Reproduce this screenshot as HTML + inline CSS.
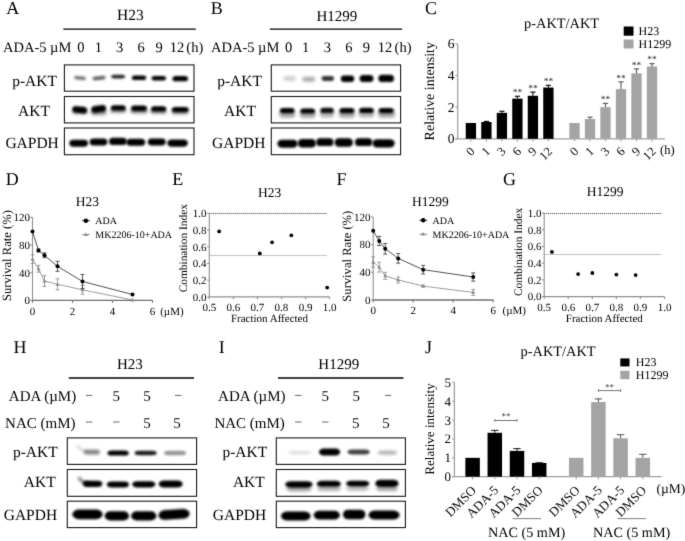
<!DOCTYPE html>
<html><head><meta charset="utf-8"><title>Figure</title>
<style>
html,body{margin:0;padding:0;background:#fff;width:685px;height:541px;overflow:hidden;}
svg{display:block;will-change:transform;}
text{font-family:"Liberation Serif", serif;text-rendering:geometricPrecision;}
</style></head>
<body>
<svg width="685" height="541" viewBox="0 0 685 541">
<defs>
<filter id="bl1" x="-50%" y="-100%" width="200%" height="300%"><feGaussianBlur stdDeviation="1.0"/></filter>
<filter id="bl2" x="-50%" y="-100%" width="200%" height="300%"><feGaussianBlur stdDeviation="1.4"/></filter>
<filter id="gcv" x="0" y="0" width="685" height="541" filterUnits="userSpaceOnUse" color-interpolation-filters="sRGB"><feConvolveMatrix order="3" kernelMatrix="0.01 0.08 0.01 0.08 0.64 0.08 0.01 0.08 0.01" edgeMode="duplicate"/></filter>
</defs>
<g filter="url(#gcv)">
<rect width="685" height="541" fill="#fff"/>
<text x="6.30" y="13.70" font-size="18" text-anchor="start" fill="#000" font-family="Liberation Serif" >A</text>
<text x="210.80" y="13.70" font-size="18" text-anchor="start" fill="#000" font-family="Liberation Serif" >B</text>
<text x="425.00" y="13.70" font-size="18" text-anchor="start" fill="#000" font-family="Liberation Serif" >C</text>
<text x="5.80" y="185.00" font-size="18" text-anchor="start" fill="#000" font-family="Liberation Serif" >D</text>
<text x="172.30" y="185.00" font-size="18" text-anchor="start" fill="#000" font-family="Liberation Serif" >E</text>
<text x="336.60" y="185.00" font-size="18" text-anchor="start" fill="#000" font-family="Liberation Serif" >F</text>
<text x="503.00" y="185.00" font-size="18" text-anchor="start" fill="#000" font-family="Liberation Serif" >G</text>
<text x="13.60" y="352.70" font-size="18" text-anchor="start" fill="#000" font-family="Liberation Serif" >H</text>
<text x="218.80" y="352.70" font-size="18" text-anchor="start" fill="#000" font-family="Liberation Serif" >I</text>
<text x="425.00" y="352.70" font-size="18" text-anchor="start" fill="#000" font-family="Liberation Serif" >J</text>
<clipPath id="c1"><rect x="64.40" y="64.90" width="129.60" height="26.30"/></clipPath>
<g clip-path="url(#c1)">
<rect x="73.80" y="76.31" width="12.40" height="3.38" rx="2.73" ry="1.69" fill="#000" fill-opacity="0.55" filter="url(#bl1)" transform="rotate(5.53 80.00 78.00)"/>
<rect x="92.30" y="76.28" width="13.40" height="3.64" rx="2.95" ry="1.82" fill="#000" fill-opacity="0.62" filter="url(#bl1)" transform="rotate(-6.39 99.00 78.10)"/>
<rect x="111.10" y="74.78" width="14.10" height="3.64" rx="3.10" ry="1.82" fill="#000" fill-opacity="0.85" filter="url(#bl1)"/>
<rect x="131.80" y="75.52" width="14.40" height="4.55" rx="3.17" ry="2.27" fill="#000" fill-opacity="1.0" filter="url(#bl1)"/>
<rect x="151.60" y="76.09" width="14.40" height="4.42" rx="3.17" ry="2.21" fill="#000" fill-opacity="1.0" filter="url(#bl1)"/>
<rect x="172.40" y="76.10" width="15.60" height="5.20" rx="3.43" ry="2.60" fill="#000" fill-opacity="1.0" filter="url(#bl1)"/>
</g>
<rect x="64.40" y="64.90" width="129.60" height="26.30" fill="none" stroke="#1a1a1a" stroke-width="1.1"/>
<clipPath id="c2"><rect x="64.40" y="96.50" width="129.60" height="26.40"/></clipPath>
<g clip-path="url(#c2)">
<rect x="72.30" y="108.51" width="15.40" height="5.98" rx="3.39" ry="2.99" fill="#000" fill-opacity="0.35" filter="url(#bl2)"/>
<rect x="90.80" y="109.51" width="15.90" height="5.98" rx="3.50" ry="2.99" fill="#000" fill-opacity="0.35" filter="url(#bl2)"/>
<rect x="110.30" y="107.88" width="15.90" height="5.23" rx="3.50" ry="2.62" fill="#000" fill-opacity="0.4" filter="url(#bl2)"/>
<rect x="130.30" y="108.38" width="17.40" height="5.23" rx="3.83" ry="2.62" fill="#000" fill-opacity="0.45" filter="url(#bl2)"/>
<rect x="150.30" y="108.88" width="16.40" height="5.23" rx="3.61" ry="2.62" fill="#000" fill-opacity="0.4" filter="url(#bl2)"/>
<rect x="171.30" y="109.38" width="17.40" height="5.23" rx="3.83" ry="2.62" fill="#000" fill-opacity="0.4" filter="url(#bl2)"/>
<rect x="72.30" y="106.51" width="14.70" height="6.58" rx="3.29" ry="3.29" fill="#000" fill-opacity="1.0" filter="url(#bl1)" transform="rotate(5.83 79.65 109.80)"/>
<rect x="91.30" y="105.56" width="14.80" height="6.88" rx="3.44" ry="3.44" fill="#000" fill-opacity="1.0" filter="url(#bl1)" transform="rotate(-7.70 98.70 109.00)"/>
<rect x="110.90" y="105.21" width="14.80" height="5.38" rx="3.26" ry="2.69" fill="#000" fill-opacity="1.0" filter="url(#bl1)"/>
<rect x="131.10" y="105.61" width="15.80" height="5.38" rx="3.48" ry="2.69" fill="#000" fill-opacity="1.0" filter="url(#bl1)"/>
<rect x="151.10" y="106.21" width="15.10" height="5.38" rx="3.32" ry="2.69" fill="#000" fill-opacity="1.0" filter="url(#bl1)"/>
<rect x="171.80" y="106.91" width="16.90" height="5.38" rx="3.72" ry="2.69" fill="#000" fill-opacity="1.0" filter="url(#bl1)"/>
</g>
<rect x="64.40" y="96.50" width="129.60" height="26.40" fill="none" stroke="#1a1a1a" stroke-width="1.1"/>
<clipPath id="c3"><rect x="64.40" y="128.00" width="129.60" height="26.70"/></clipPath>
<g clip-path="url(#c3)">
<rect x="69.30" y="139.87" width="18.70" height="6.86" rx="4.11" ry="3.43" fill="#000" fill-opacity="1.0" filter="url(#bl1)"/>
<rect x="89.60" y="138.57" width="17.80" height="6.86" rx="3.92" ry="3.43" fill="#000" fill-opacity="1.0" filter="url(#bl1)"/>
<rect x="109.00" y="137.85" width="17.80" height="7.09" rx="3.92" ry="3.55" fill="#000" fill-opacity="1.0" filter="url(#bl1)"/>
<rect x="126.40" y="138.65" width="18.80" height="7.09" rx="4.14" ry="3.55" fill="#000" fill-opacity="1.0" filter="url(#bl1)"/>
<rect x="147.80" y="138.57" width="17.90" height="6.86" rx="3.94" ry="3.43" fill="#000" fill-opacity="1.0" filter="url(#bl1)"/>
<rect x="167.30" y="139.44" width="20.50" height="7.32" rx="4.51" ry="3.66" fill="#000" fill-opacity="1.0" filter="url(#bl1)"/>
</g>
<rect x="64.40" y="128.00" width="129.60" height="26.70" fill="none" stroke="#1a1a1a" stroke-width="1.1"/>
<clipPath id="c4"><rect x="271.30" y="64.90" width="129.30" height="26.30"/></clipPath>
<g clip-path="url(#c4)">
<rect x="283.30" y="76.03" width="12.40" height="4.94" rx="2.73" ry="2.47" fill="#000" fill-opacity="0.18" filter="url(#bl2)"/>
<rect x="302.30" y="76.83" width="12.90" height="4.94" rx="2.84" ry="2.47" fill="#000" fill-opacity="0.32" filter="url(#bl2)"/>
<rect x="321.60" y="76.03" width="12.40" height="4.94" rx="2.73" ry="2.47" fill="#000" fill-opacity="0.8" filter="url(#bl1)"/>
<rect x="340.80" y="75.45" width="13.40" height="6.50" rx="3.25" ry="3.25" fill="#000" fill-opacity="1.0" filter="url(#bl1)"/>
<rect x="359.60" y="74.89" width="13.90" height="7.02" rx="3.51" ry="3.51" fill="#000" fill-opacity="1.0" filter="url(#bl1)"/>
<rect x="378.40" y="74.76" width="15.60" height="7.28" rx="3.64" ry="3.64" fill="#000" fill-opacity="1.0" filter="url(#bl1)"/>
</g>
<rect x="271.30" y="64.90" width="129.30" height="26.30" fill="none" stroke="#1a1a1a" stroke-width="1.1"/>
<clipPath id="c5"><rect x="271.30" y="96.50" width="129.30" height="26.40"/></clipPath>
<g clip-path="url(#c5)">
<rect x="279.30" y="110.26" width="15.90" height="7.47" rx="3.74" ry="3.74" fill="#000" fill-opacity="0.35" filter="url(#bl2)"/>
<rect x="299.80" y="110.56" width="15.90" height="7.47" rx="3.74" ry="3.74" fill="#000" fill-opacity="0.35" filter="url(#bl2)"/>
<rect x="319.80" y="109.96" width="14.40" height="7.47" rx="3.74" ry="3.74" fill="#000" fill-opacity="0.3" filter="url(#bl2)"/>
<rect x="338.80" y="110.26" width="16.30" height="7.47" rx="3.74" ry="3.74" fill="#000" fill-opacity="0.35" filter="url(#bl2)"/>
<rect x="358.60" y="110.06" width="15.80" height="7.47" rx="3.74" ry="3.74" fill="#000" fill-opacity="0.3" filter="url(#bl2)"/>
<rect x="378.00" y="110.26" width="17.30" height="7.47" rx="3.81" ry="3.74" fill="#000" fill-opacity="0.35" filter="url(#bl2)"/>
<rect x="279.90" y="107.91" width="14.60" height="5.38" rx="3.21" ry="2.69" fill="#000" fill-opacity="1.0" filter="url(#bl1)"/>
<rect x="300.30" y="108.46" width="14.70" height="5.08" rx="3.23" ry="2.54" fill="#000" fill-opacity="1.0" filter="url(#bl1)"/>
<rect x="320.40" y="107.86" width="13.30" height="5.08" rx="2.93" ry="2.54" fill="#000" fill-opacity="0.95" filter="url(#bl1)"/>
<rect x="339.50" y="108.06" width="14.90" height="5.08" rx="3.28" ry="2.54" fill="#000" fill-opacity="1.0" filter="url(#bl1)"/>
<rect x="359.30" y="107.71" width="14.40" height="5.38" rx="3.17" ry="2.69" fill="#000" fill-opacity="1.0" filter="url(#bl1)"/>
<rect x="378.70" y="108.06" width="15.00" height="5.08" rx="3.30" ry="2.54" fill="#000" fill-opacity="1.0" filter="url(#bl1)"/>
</g>
<rect x="271.30" y="96.50" width="129.30" height="26.40" fill="none" stroke="#1a1a1a" stroke-width="1.1"/>
<clipPath id="c6"><rect x="271.30" y="128.00" width="129.30" height="26.70"/></clipPath>
<g clip-path="url(#c6)">
<rect x="277.40" y="139.67" width="20.20" height="8.06" rx="4.44" ry="4.03" fill="#000" fill-opacity="1.0" filter="url(#bl1)"/>
<rect x="297.80" y="138.91" width="18.20" height="8.58" rx="4.29" ry="4.29" fill="#000" fill-opacity="1.0" filter="url(#bl1)"/>
<rect x="316.20" y="138.30" width="17.30" height="7.80" rx="3.90" ry="3.90" fill="#000" fill-opacity="1.0" filter="url(#bl1)"/>
<rect x="334.60" y="138.34" width="18.30" height="8.32" rx="4.16" ry="4.16" fill="#000" fill-opacity="1.0" filter="url(#bl1)"/>
<rect x="355.00" y="138.30" width="17.30" height="7.80" rx="3.90" ry="3.90" fill="#000" fill-opacity="1.0" filter="url(#bl1)"/>
<rect x="372.50" y="139.14" width="22.20" height="8.32" rx="4.88" ry="4.16" fill="#000" fill-opacity="1.0" filter="url(#bl1)"/>
</g>
<rect x="271.30" y="128.00" width="129.30" height="26.70" fill="none" stroke="#1a1a1a" stroke-width="1.1"/>
<clipPath id="c7"><rect x="67.30" y="437.90" width="129.30" height="26.50"/></clipPath>
<g clip-path="url(#c7)">
<rect x="83.80" y="449.76" width="16.20" height="4.68" rx="3.56" ry="2.34" fill="#000" fill-opacity="0.5" filter="url(#bl2)"/>
<rect x="107.40" y="450.40" width="21.40" height="5.20" rx="4.71" ry="2.60" fill="#000" fill-opacity="1.0" filter="url(#bl1)"/>
<rect x="134.60" y="450.79" width="22.10" height="4.42" rx="4.86" ry="2.21" fill="#000" fill-opacity="0.9" filter="url(#bl1)"/>
<rect x="164.00" y="450.79" width="22.10" height="4.42" rx="4.86" ry="2.21" fill="#000" fill-opacity="0.42" filter="url(#bl1)"/>
</g>
<rect x="67.30" y="437.90" width="129.30" height="26.50" fill="none" stroke="#1a1a1a" stroke-width="1.1"/>
<clipPath id="c8"><rect x="67.30" y="469.50" width="129.30" height="26.80"/></clipPath>
<g clip-path="url(#c8)">
<rect x="82.80" y="480.68" width="19.50" height="6.24" rx="4.29" ry="3.12" fill="#000" fill-opacity="1.0" filter="url(#bl1)"/>
<rect x="106.90" y="481.51" width="22.00" height="5.98" rx="4.84" ry="2.99" fill="#000" fill-opacity="1.0" filter="url(#bl1)"/>
<rect x="132.30" y="481.18" width="23.00" height="6.24" rx="5.06" ry="3.12" fill="#000" fill-opacity="1.0" filter="url(#bl1)"/>
<rect x="158.70" y="480.39" width="24.00" height="7.02" rx="5.28" ry="3.51" fill="#000" fill-opacity="1.0" filter="url(#bl1)"/>
</g>
<rect x="67.30" y="469.50" width="129.30" height="26.80" fill="none" stroke="#1a1a1a" stroke-width="1.1"/>
<clipPath id="c9"><rect x="67.30" y="501.20" width="129.30" height="26.40"/></clipPath>
<g clip-path="url(#c9)">
<rect x="72.40" y="509.59" width="30.20" height="9.62" rx="6.64" ry="4.81" fill="#000" fill-opacity="1.0" filter="url(#bl1)"/>
<rect x="104.70" y="511.35" width="24.30" height="9.10" rx="5.35" ry="4.55" fill="#000" fill-opacity="1.0" filter="url(#bl1)"/>
<rect x="131.10" y="511.35" width="25.30" height="9.10" rx="5.57" ry="4.55" fill="#000" fill-opacity="1.0" filter="url(#bl1)"/>
<rect x="158.50" y="509.46" width="31.10" height="9.88" rx="6.84" ry="4.94" fill="#000" fill-opacity="1.0" filter="url(#bl1)" transform="rotate(-3.68 174.05 514.40)"/>
</g>
<rect x="67.30" y="501.20" width="129.30" height="26.40" fill="none" stroke="#1a1a1a" stroke-width="1.1"/>
<path d="M76.8,445.0 Q79.5,450.2 86.5,451.2" fill="none" stroke="#000" stroke-opacity="0.2" stroke-width="2.0" filter="url(#bl2)"/>
<path d="M79.2,478.0 Q81.5,482.6 89.0,483.4" fill="none" stroke="#000" stroke-opacity="0.6" stroke-width="2.6" stroke-linecap="round" filter="url(#bl2)"/>
<clipPath id="c10"><rect x="276.30" y="437.90" width="129.10" height="26.50"/></clipPath>
<g clip-path="url(#c10)">
<rect x="288.30" y="450.91" width="23.20" height="3.38" rx="5.10" ry="1.69" fill="#000" fill-opacity="0.14" filter="url(#bl2)"/>
<rect x="319.00" y="448.49" width="21.20" height="7.02" rx="4.66" ry="3.51" fill="#000" fill-opacity="1.0" filter="url(#bl1)"/>
<rect x="347.60" y="449.53" width="22.10" height="4.94" rx="4.86" ry="2.47" fill="#000" fill-opacity="0.75" filter="url(#bl1)"/>
<rect x="377.80" y="450.65" width="19.20" height="3.90" rx="4.22" ry="1.95" fill="#000" fill-opacity="0.32" filter="url(#bl2)"/>
</g>
<rect x="276.30" y="437.90" width="129.10" height="26.50" fill="none" stroke="#1a1a1a" stroke-width="1.1"/>
<clipPath id="c11"><rect x="276.30" y="469.50" width="129.10" height="26.80"/></clipPath>
<g clip-path="url(#c11)">
<rect x="286.30" y="486.40" width="25.40" height="5.20" rx="5.59" ry="2.60" fill="#000" fill-opacity="0.35" filter="url(#bl2)"/>
<rect x="317.30" y="485.90" width="23.40" height="5.20" rx="5.15" ry="2.60" fill="#000" fill-opacity="0.3" filter="url(#bl2)"/>
<rect x="346.30" y="485.70" width="22.40" height="5.20" rx="4.93" ry="2.60" fill="#000" fill-opacity="0.25" filter="url(#bl2)"/>
<rect x="376.30" y="485.90" width="21.40" height="5.20" rx="4.71" ry="2.60" fill="#000" fill-opacity="0.35" filter="url(#bl2)"/>
<rect x="285.30" y="481.15" width="27.20" height="6.50" rx="5.98" ry="3.25" fill="#000" fill-opacity="1.0" filter="url(#bl1)"/>
<rect x="316.70" y="480.81" width="24.20" height="5.98" rx="5.32" ry="2.99" fill="#000" fill-opacity="1.0" filter="url(#bl1)"/>
<rect x="346.10" y="480.74" width="23.20" height="5.72" rx="5.10" ry="2.86" fill="#000" fill-opacity="1.0" filter="url(#bl1)"/>
<rect x="375.30" y="479.76" width="23.20" height="7.28" rx="5.10" ry="3.64" fill="#000" fill-opacity="1.0" filter="url(#bl1)"/>
</g>
<rect x="276.30" y="469.50" width="129.10" height="26.80" fill="none" stroke="#1a1a1a" stroke-width="1.1"/>
<clipPath id="c12"><rect x="276.30" y="501.20" width="129.10" height="26.40"/></clipPath>
<g clip-path="url(#c12)">
<rect x="281.00" y="511.58" width="29.60" height="8.84" rx="6.51" ry="4.42" fill="#000" fill-opacity="1.0" filter="url(#bl1)"/>
<rect x="313.70" y="510.68" width="26.20" height="8.84" rx="5.76" ry="4.42" fill="#000" fill-opacity="1.0" filter="url(#bl1)"/>
<rect x="343.00" y="509.69" width="22.40" height="9.62" rx="4.93" ry="4.81" fill="#000" fill-opacity="1.0" filter="url(#bl1)"/>
<rect x="368.50" y="510.45" width="31.10" height="9.10" rx="6.84" ry="4.55" fill="#000" fill-opacity="1.0" filter="url(#bl1)"/>
</g>
<rect x="276.30" y="501.20" width="129.10" height="26.40" fill="none" stroke="#1a1a1a" stroke-width="1.1"/>
<text x="130.30" y="20.20" font-size="15.5" text-anchor="middle" fill="#000" font-family="Liberation Serif" >H23</text>
<line x1="63.30" y1="29.10" x2="195.80" y2="29.10" stroke="#000" stroke-width="1.3" />
<text x="3.00" y="51.80" font-size="14.5" text-anchor="start" fill="#000" font-family="Liberation Serif" >ADA-5 µM</text>
<text x="80.80" y="51.80" font-size="14.5" text-anchor="middle" fill="#000" font-family="Liberation Serif" >0</text>
<text x="98.30" y="51.80" font-size="14.5" text-anchor="middle" fill="#000" font-family="Liberation Serif" >1</text>
<text x="119.60" y="51.80" font-size="14.5" text-anchor="middle" fill="#000" font-family="Liberation Serif" >3</text>
<text x="141.00" y="51.80" font-size="14.5" text-anchor="middle" fill="#000" font-family="Liberation Serif" >6</text>
<text x="159.00" y="51.80" font-size="14.5" text-anchor="middle" fill="#000" font-family="Liberation Serif" >9</text>
<text x="177.10" y="51.80" font-size="14.5" text-anchor="middle" fill="#000" font-family="Liberation Serif" >12</text>
<text x="186.30" y="51.80" font-size="14.5" text-anchor="start" fill="#000" font-family="Liberation Serif" >(h)</text>
<text x="12.20" y="85.70" font-size="15.5" text-anchor="start" fill="#000" font-family="Liberation Serif" >p-AKT</text>
<text x="18.00" y="115.80" font-size="15.5" text-anchor="start" fill="#000" font-family="Liberation Serif" >AKT</text>
<text x="5.40" y="147.80" font-size="15.5" text-anchor="start" fill="#000" font-family="Liberation Serif" >GAPDH</text>
<text x="336.80" y="20.80" font-size="15" text-anchor="middle" fill="#000" font-family="Liberation Serif" >H1299</text>
<line x1="269.90" y1="29.10" x2="402.00" y2="29.10" stroke="#000" stroke-width="1.3" />
<text x="211.00" y="51.80" font-size="14.5" text-anchor="start" fill="#000" font-family="Liberation Serif" >ADA-5 µM</text>
<text x="288.60" y="51.80" font-size="14.5" text-anchor="middle" fill="#000" font-family="Liberation Serif" >0</text>
<text x="305.70" y="51.80" font-size="14.5" text-anchor="middle" fill="#000" font-family="Liberation Serif" >1</text>
<text x="327.40" y="51.80" font-size="14.5" text-anchor="middle" fill="#000" font-family="Liberation Serif" >3</text>
<text x="348.80" y="51.80" font-size="14.5" text-anchor="middle" fill="#000" font-family="Liberation Serif" >6</text>
<text x="366.30" y="51.80" font-size="14.5" text-anchor="middle" fill="#000" font-family="Liberation Serif" >9</text>
<text x="385.00" y="51.80" font-size="14.5" text-anchor="middle" fill="#000" font-family="Liberation Serif" >12</text>
<text x="394.60" y="51.80" font-size="14.5" text-anchor="start" fill="#000" font-family="Liberation Serif" >(h)</text>
<text x="217.20" y="86.20" font-size="15.5" text-anchor="start" fill="#000" font-family="Liberation Serif" >p-AKT</text>
<text x="224.00" y="116.00" font-size="15.5" text-anchor="start" fill="#000" font-family="Liberation Serif" >AKT</text>
<text x="212.00" y="148.00" font-size="15.5" text-anchor="start" fill="#000" font-family="Liberation Serif" >GAPDH</text>
<text x="117.00" y="369.30" font-size="15" text-anchor="start" fill="#000" font-family="Liberation Serif" >H23</text>
<line x1="68.80" y1="378.00" x2="194.00" y2="378.00" stroke="#000" stroke-width="1.3" />
<text x="8.80" y="401.00" font-size="15" text-anchor="start" fill="#000" font-family="Liberation Serif" >ADA (µM)</text>
<text x="5.10" y="427.60" font-size="15" text-anchor="start" fill="#000" font-family="Liberation Serif" >NAC (mM)</text>
<line x1="85.90" y1="395.40" x2="92.30" y2="395.40" stroke="#555" stroke-width="0.9" />
<text x="116.30" y="401.00" font-size="15" text-anchor="middle" fill="#000" font-family="Liberation Serif" >5</text>
<text x="147.10" y="401.00" font-size="15" text-anchor="middle" fill="#000" font-family="Liberation Serif" >5</text>
<line x1="175.00" y1="395.40" x2="181.40" y2="395.40" stroke="#555" stroke-width="0.9" />
<line x1="85.90" y1="422.00" x2="92.30" y2="422.00" stroke="#555" stroke-width="0.9" />
<line x1="113.10" y1="422.00" x2="119.50" y2="422.00" stroke="#555" stroke-width="0.9" />
<text x="147.10" y="427.60" font-size="15" text-anchor="middle" fill="#000" font-family="Liberation Serif" >5</text>
<text x="177.00" y="427.60" font-size="15" text-anchor="middle" fill="#000" font-family="Liberation Serif" >5</text>
<text x="12.90" y="457.10" font-size="15.5" text-anchor="start" fill="#000" font-family="Liberation Serif" >p-AKT</text>
<text x="23.80" y="487.40" font-size="15.5" text-anchor="start" fill="#000" font-family="Liberation Serif" >AKT</text>
<text x="3.70" y="519.80" font-size="15.5" text-anchor="start" fill="#000" font-family="Liberation Serif" >GAPDH</text>
<text x="318.30" y="368.80" font-size="15" text-anchor="start" fill="#000" font-family="Liberation Serif" >H1299</text>
<line x1="278.00" y1="378.00" x2="403.40" y2="378.00" stroke="#000" stroke-width="1.3" />
<text x="218.10" y="401.00" font-size="15" text-anchor="start" fill="#000" font-family="Liberation Serif" >ADA (µM)</text>
<text x="214.40" y="427.60" font-size="15" text-anchor="start" fill="#000" font-family="Liberation Serif" >NAC (mM)</text>
<line x1="295.10" y1="395.40" x2="301.50" y2="395.40" stroke="#555" stroke-width="0.9" />
<text x="325.30" y="401.00" font-size="15" text-anchor="middle" fill="#000" font-family="Liberation Serif" >5</text>
<text x="356.30" y="401.00" font-size="15" text-anchor="middle" fill="#000" font-family="Liberation Serif" >5</text>
<line x1="384.90" y1="395.40" x2="391.30" y2="395.40" stroke="#555" stroke-width="0.9" />
<line x1="295.10" y1="422.00" x2="301.50" y2="422.00" stroke="#555" stroke-width="0.9" />
<line x1="322.10" y1="422.00" x2="328.50" y2="422.00" stroke="#555" stroke-width="0.9" />
<text x="355.70" y="427.60" font-size="15" text-anchor="middle" fill="#000" font-family="Liberation Serif" >5</text>
<text x="385.90" y="427.60" font-size="15" text-anchor="middle" fill="#000" font-family="Liberation Serif" >5</text>
<text x="222.40" y="457.10" font-size="15.5" text-anchor="start" fill="#000" font-family="Liberation Serif" >p-AKT</text>
<text x="232.90" y="487.40" font-size="15.5" text-anchor="start" fill="#000" font-family="Liberation Serif" >AKT</text>
<text x="212.80" y="519.80" font-size="15.5" text-anchor="start" fill="#000" font-family="Liberation Serif" >GAPDH</text>
<line x1="457.70" y1="43.90" x2="457.70" y2="138.80" stroke="#a0a0a0" stroke-width="1.3" />
<line x1="455.30" y1="138.80" x2="665.00" y2="138.80" stroke="#a0a0a0" stroke-width="1.3" />
<line x1="455.30" y1="138.80" x2="457.70" y2="138.80" stroke="#a0a0a0" stroke-width="1.2" />
<text x="454.50" y="143.30" font-size="13.5" text-anchor="end" fill="#000" font-family="Liberation Serif" >0</text>
<line x1="455.30" y1="107.16" x2="457.70" y2="107.16" stroke="#a0a0a0" stroke-width="1.2" />
<text x="454.50" y="111.66" font-size="13.5" text-anchor="end" fill="#000" font-family="Liberation Serif" >2</text>
<line x1="455.30" y1="75.52" x2="457.70" y2="75.52" stroke="#a0a0a0" stroke-width="1.2" />
<text x="454.50" y="80.02" font-size="13.5" text-anchor="end" fill="#000" font-family="Liberation Serif" >4</text>
<line x1="455.30" y1="43.88" x2="457.70" y2="43.88" stroke="#a0a0a0" stroke-width="1.2" />
<text x="454.50" y="48.38" font-size="13.5" text-anchor="end" fill="#000" font-family="Liberation Serif" >6</text>
<text x="0" y="0" font-size="14" text-anchor="middle" fill="#000" font-family="Liberation Serif" transform="translate(434.40,91.20) rotate(-90)">Relative intensity</text>
<text x="524.00" y="28.40" font-size="14.4" text-anchor="start" fill="#000" font-family="Liberation Serif" >p-AKT/AKT</text>
<rect x="623.70" y="26.50" width="9.80" height="9.20" fill="#000" />
<rect x="623.70" y="39.50" width="9.80" height="9.00" fill="#a4a4a4" />
<text x="638.60" y="34.90" font-size="12" text-anchor="start" fill="#000" font-family="Liberation Serif" >H23</text>
<text x="638.60" y="47.90" font-size="12" text-anchor="start" fill="#000" font-family="Liberation Serif" >H1299</text>
<rect x="465.75" y="122.98" width="10.30" height="15.82" fill="#000" />
<line x1="470.90" y1="138.80" x2="470.90" y2="141.40" stroke="#a0a0a0" stroke-width="1.1" />
<text x="0" y="0" font-size="12.5" text-anchor="end" fill="#000" font-family="Liberation Serif" transform="translate(475.50,152.20) rotate(-45)">0</text>
<rect x="481.25" y="122.03" width="10.30" height="16.77" fill="#000" />
<line x1="486.40" y1="122.03" x2="486.40" y2="121.40" stroke="#000" stroke-width="1.1" />
<line x1="483.80" y1="121.40" x2="489.00" y2="121.40" stroke="#000" stroke-width="1.1" />
<line x1="486.40" y1="138.80" x2="486.40" y2="141.40" stroke="#a0a0a0" stroke-width="1.1" />
<text x="0" y="0" font-size="12.5" text-anchor="end" fill="#000" font-family="Liberation Serif" transform="translate(491.00,152.20) rotate(-45)">1</text>
<rect x="496.75" y="112.86" width="10.30" height="25.94" fill="#000" />
<line x1="501.90" y1="112.86" x2="501.90" y2="111.27" stroke="#000" stroke-width="1.1" />
<line x1="499.30" y1="111.27" x2="504.50" y2="111.27" stroke="#000" stroke-width="1.1" />
<line x1="501.90" y1="138.80" x2="501.90" y2="141.40" stroke="#a0a0a0" stroke-width="1.1" />
<text x="0" y="0" font-size="12.5" text-anchor="end" fill="#000" font-family="Liberation Serif" transform="translate(506.50,152.20) rotate(-45)">3</text>
<rect x="512.25" y="98.62" width="10.30" height="40.18" fill="#000" />
<line x1="517.40" y1="98.62" x2="517.40" y2="96.24" stroke="#000" stroke-width="1.1" />
<line x1="514.80" y1="96.24" x2="520.00" y2="96.24" stroke="#000" stroke-width="1.1" />
<text x="517.40" y="94.94" font-size="9.5" text-anchor="middle" fill="#222" font-family="Liberation Serif" >**</text>
<line x1="517.40" y1="138.80" x2="517.40" y2="141.40" stroke="#a0a0a0" stroke-width="1.1" />
<text x="0" y="0" font-size="12.5" text-anchor="end" fill="#000" font-family="Liberation Serif" transform="translate(522.00,152.20) rotate(-45)">6</text>
<rect x="527.75" y="95.77" width="10.30" height="43.03" fill="#000" />
<line x1="532.90" y1="95.77" x2="532.90" y2="92.13" stroke="#000" stroke-width="1.1" />
<line x1="530.30" y1="92.13" x2="535.50" y2="92.13" stroke="#000" stroke-width="1.1" />
<text x="532.90" y="90.83" font-size="9.5" text-anchor="middle" fill="#222" font-family="Liberation Serif" >**</text>
<line x1="532.90" y1="138.80" x2="532.90" y2="141.40" stroke="#a0a0a0" stroke-width="1.1" />
<text x="0" y="0" font-size="12.5" text-anchor="end" fill="#000" font-family="Liberation Serif" transform="translate(537.50,152.20) rotate(-45)">9</text>
<rect x="543.25" y="87.54" width="10.30" height="51.26" fill="#000" />
<line x1="548.40" y1="87.54" x2="548.40" y2="85.33" stroke="#000" stroke-width="1.1" />
<line x1="545.80" y1="85.33" x2="551.00" y2="85.33" stroke="#000" stroke-width="1.1" />
<text x="548.40" y="84.03" font-size="9.5" text-anchor="middle" fill="#222" font-family="Liberation Serif" >**</text>
<line x1="548.40" y1="138.80" x2="548.40" y2="141.40" stroke="#a0a0a0" stroke-width="1.1" />
<text x="0" y="0" font-size="12.5" text-anchor="end" fill="#000" font-family="Liberation Serif" transform="translate(553.00,152.20) rotate(-45)">12</text>
<rect x="569.35" y="122.98" width="10.30" height="15.82" fill="#a4a4a4" />
<line x1="574.50" y1="138.80" x2="574.50" y2="141.40" stroke="#a0a0a0" stroke-width="1.1" />
<text x="0" y="0" font-size="12.5" text-anchor="end" fill="#000" font-family="Liberation Serif" transform="translate(579.10,152.20) rotate(-45)">0</text>
<rect x="584.85" y="119.03" width="10.30" height="19.78" fill="#a4a4a4" />
<line x1="590.00" y1="119.03" x2="590.00" y2="117.21" stroke="#555" stroke-width="1.1" />
<line x1="587.40" y1="117.21" x2="592.60" y2="117.21" stroke="#555" stroke-width="1.1" />
<line x1="590.00" y1="138.80" x2="590.00" y2="141.40" stroke="#a0a0a0" stroke-width="1.1" />
<text x="0" y="0" font-size="12.5" text-anchor="end" fill="#000" font-family="Liberation Serif" transform="translate(594.60,152.20) rotate(-45)">1</text>
<rect x="600.35" y="107.16" width="10.30" height="31.64" fill="#a4a4a4" />
<line x1="605.50" y1="107.16" x2="605.50" y2="103.36" stroke="#555" stroke-width="1.1" />
<line x1="602.90" y1="103.36" x2="608.10" y2="103.36" stroke="#555" stroke-width="1.1" />
<text x="605.50" y="102.06" font-size="9.5" text-anchor="middle" fill="#222" font-family="Liberation Serif" >**</text>
<line x1="605.50" y1="138.80" x2="605.50" y2="141.40" stroke="#a0a0a0" stroke-width="1.1" />
<text x="0" y="0" font-size="12.5" text-anchor="end" fill="#000" font-family="Liberation Serif" transform="translate(610.10,152.20) rotate(-45)">3</text>
<rect x="615.85" y="89.13" width="10.30" height="49.67" fill="#a4a4a4" />
<line x1="621.00" y1="89.13" x2="621.00" y2="81.85" stroke="#555" stroke-width="1.1" />
<line x1="618.40" y1="81.85" x2="623.60" y2="81.85" stroke="#555" stroke-width="1.1" />
<text x="621.00" y="80.55" font-size="9.5" text-anchor="middle" fill="#222" font-family="Liberation Serif" >**</text>
<line x1="621.00" y1="138.80" x2="621.00" y2="141.40" stroke="#a0a0a0" stroke-width="1.1" />
<text x="0" y="0" font-size="12.5" text-anchor="end" fill="#000" font-family="Liberation Serif" transform="translate(625.60,152.20) rotate(-45)">6</text>
<rect x="631.35" y="73.31" width="10.30" height="65.49" fill="#a4a4a4" />
<line x1="636.50" y1="73.31" x2="636.50" y2="68.88" stroke="#555" stroke-width="1.1" />
<line x1="633.90" y1="68.88" x2="639.10" y2="68.88" stroke="#555" stroke-width="1.1" />
<text x="636.50" y="67.58" font-size="9.5" text-anchor="middle" fill="#222" font-family="Liberation Serif" >**</text>
<line x1="636.50" y1="138.80" x2="636.50" y2="141.40" stroke="#a0a0a0" stroke-width="1.1" />
<text x="0" y="0" font-size="12.5" text-anchor="end" fill="#000" font-family="Liberation Serif" transform="translate(641.10,152.20) rotate(-45)">9</text>
<rect x="646.85" y="66.50" width="10.30" height="72.30" fill="#a4a4a4" />
<line x1="652.00" y1="66.50" x2="652.00" y2="63.66" stroke="#555" stroke-width="1.1" />
<line x1="649.40" y1="63.66" x2="654.60" y2="63.66" stroke="#555" stroke-width="1.1" />
<text x="652.00" y="62.36" font-size="9.5" text-anchor="middle" fill="#222" font-family="Liberation Serif" >**</text>
<line x1="652.00" y1="138.80" x2="652.00" y2="141.40" stroke="#a0a0a0" stroke-width="1.1" />
<text x="0" y="0" font-size="12.5" text-anchor="end" fill="#000" font-family="Liberation Serif" transform="translate(656.60,152.20) rotate(-45)">12</text>
<text x="660.00" y="154.30" font-size="12.5" text-anchor="start" fill="#000" font-family="Liberation Sans" >(h)</text>
<line x1="32.50" y1="217.30" x2="32.50" y2="300.40" stroke="#909090" stroke-width="1.1" />
<line x1="32.50" y1="300.40" x2="152.70" y2="300.40" stroke="#707070" stroke-width="1.3" />
<line x1="30.30" y1="300.40" x2="32.50" y2="300.40" stroke="#909090" stroke-width="1.1" />
<text x="29.90" y="304.20" font-size="11" text-anchor="end" fill="#000" font-family="Liberation Serif" >0</text>
<line x1="30.30" y1="272.70" x2="32.50" y2="272.70" stroke="#909090" stroke-width="1.1" />
<text x="29.90" y="276.50" font-size="11" text-anchor="end" fill="#000" font-family="Liberation Serif" >40</text>
<line x1="30.30" y1="245.00" x2="32.50" y2="245.00" stroke="#909090" stroke-width="1.1" />
<text x="29.90" y="248.80" font-size="11" text-anchor="end" fill="#000" font-family="Liberation Serif" >80</text>
<line x1="30.30" y1="217.30" x2="32.50" y2="217.30" stroke="#909090" stroke-width="1.1" />
<text x="29.90" y="221.10" font-size="11" text-anchor="end" fill="#000" font-family="Liberation Serif" >120</text>
<line x1="32.50" y1="300.40" x2="32.50" y2="302.80" stroke="#707070" stroke-width="1.1" />
<text x="32.50" y="314.60" font-size="11" text-anchor="middle" fill="#000" font-family="Liberation Serif" >0</text>
<line x1="72.50" y1="300.40" x2="72.50" y2="302.80" stroke="#707070" stroke-width="1.1" />
<text x="72.50" y="314.60" font-size="11" text-anchor="middle" fill="#000" font-family="Liberation Serif" >2</text>
<line x1="112.50" y1="300.40" x2="112.50" y2="302.80" stroke="#707070" stroke-width="1.1" />
<text x="112.50" y="314.60" font-size="11" text-anchor="middle" fill="#000" font-family="Liberation Serif" >4</text>
<line x1="152.50" y1="300.40" x2="152.50" y2="302.80" stroke="#707070" stroke-width="1.1" />
<text x="152.50" y="314.60" font-size="11" text-anchor="middle" fill="#000" font-family="Liberation Serif" >6</text>
<text x="160.20" y="314.60" font-size="11" text-anchor="start" fill="#000" font-family="Liberation Serif" >(µM)</text>
<polyline points="32.50,259.20 38.50,268.82 44.50,281.01 57.50,284.33 82.50,289.80 132.50,299.98" fill="none" stroke="#8a8a8a" stroke-width="0.85"/>
<line x1="32.50" y1="254.90" x2="32.50" y2="263.50" stroke="#8a8a8a" stroke-width="0.8" />
<line x1="30.50" y1="254.90" x2="34.50" y2="254.90" stroke="#8a8a8a" stroke-width="0.8" />
<line x1="30.50" y1="263.50" x2="34.50" y2="263.50" stroke="#8a8a8a" stroke-width="0.8" />
<path d="M32.50,257.00 L34.50,260.60 L30.50,260.60 Z" fill="#8a8a8a"/>
<line x1="38.50" y1="265.42" x2="38.50" y2="272.22" stroke="#8a8a8a" stroke-width="0.8" />
<line x1="36.50" y1="265.42" x2="40.50" y2="265.42" stroke="#8a8a8a" stroke-width="0.8" />
<line x1="36.50" y1="272.22" x2="40.50" y2="272.22" stroke="#8a8a8a" stroke-width="0.8" />
<path d="M38.50,266.62 L40.50,270.22 L36.50,270.22 Z" fill="#8a8a8a"/>
<line x1="44.50" y1="275.61" x2="44.50" y2="286.41" stroke="#8a8a8a" stroke-width="0.8" />
<line x1="42.50" y1="275.61" x2="46.50" y2="275.61" stroke="#8a8a8a" stroke-width="0.8" />
<line x1="42.50" y1="286.41" x2="46.50" y2="286.41" stroke="#8a8a8a" stroke-width="0.8" />
<path d="M44.50,278.81 L46.50,282.41 L42.50,282.41 Z" fill="#8a8a8a"/>
<line x1="57.50" y1="278.73" x2="57.50" y2="289.93" stroke="#8a8a8a" stroke-width="0.8" />
<line x1="55.50" y1="278.73" x2="59.50" y2="278.73" stroke="#8a8a8a" stroke-width="0.8" />
<line x1="55.50" y1="289.93" x2="59.50" y2="289.93" stroke="#8a8a8a" stroke-width="0.8" />
<path d="M57.50,282.13 L59.50,285.73 L55.50,285.73 Z" fill="#8a8a8a"/>
<line x1="82.50" y1="285.40" x2="82.50" y2="294.20" stroke="#8a8a8a" stroke-width="0.8" />
<line x1="80.50" y1="285.40" x2="84.50" y2="285.40" stroke="#8a8a8a" stroke-width="0.8" />
<line x1="80.50" y1="294.20" x2="84.50" y2="294.20" stroke="#8a8a8a" stroke-width="0.8" />
<path d="M82.50,287.60 L84.50,291.20 L80.50,291.20 Z" fill="#8a8a8a"/>
<path d="M132.50,297.78 L134.50,301.38 L130.50,301.38 Z" fill="#8a8a8a"/>
<polyline points="32.50,231.57 38.50,250.40 44.50,255.32 57.50,266.33 82.50,281.43 132.50,294.51" fill="none" stroke="#333" stroke-width="0.85"/>
<circle cx="32.50" cy="231.57" r="2.0" fill="#000"/>
<line x1="38.50" y1="248.90" x2="38.50" y2="251.90" stroke="#333" stroke-width="0.8" />
<line x1="36.50" y1="248.90" x2="40.50" y2="248.90" stroke="#333" stroke-width="0.8" />
<line x1="36.50" y1="251.90" x2="40.50" y2="251.90" stroke="#333" stroke-width="0.8" />
<circle cx="38.50" cy="250.40" r="2.0" fill="#000"/>
<line x1="44.50" y1="252.92" x2="44.50" y2="257.72" stroke="#333" stroke-width="0.8" />
<line x1="42.50" y1="252.92" x2="46.50" y2="252.92" stroke="#333" stroke-width="0.8" />
<line x1="42.50" y1="257.72" x2="46.50" y2="257.72" stroke="#333" stroke-width="0.8" />
<circle cx="44.50" cy="255.32" r="2.0" fill="#000"/>
<line x1="57.50" y1="261.33" x2="57.50" y2="271.33" stroke="#333" stroke-width="0.8" />
<line x1="55.50" y1="261.33" x2="59.50" y2="261.33" stroke="#333" stroke-width="0.8" />
<line x1="55.50" y1="271.33" x2="59.50" y2="271.33" stroke="#333" stroke-width="0.8" />
<circle cx="57.50" cy="266.33" r="2.0" fill="#000"/>
<line x1="82.50" y1="274.43" x2="82.50" y2="288.43" stroke="#333" stroke-width="0.8" />
<line x1="80.50" y1="274.43" x2="84.50" y2="274.43" stroke="#333" stroke-width="0.8" />
<line x1="80.50" y1="288.43" x2="84.50" y2="288.43" stroke="#333" stroke-width="0.8" />
<circle cx="82.50" cy="281.43" r="2.0" fill="#000"/>
<circle cx="132.50" cy="294.51" r="2.0" fill="#000"/>
<line x1="82.10" y1="220.70" x2="89.90" y2="220.70" stroke="#222" stroke-width="1" />
<circle cx="85.90" cy="220.70" r="2.2" fill="#000"/>
<text x="95.30" y="224.40" font-size="10.0" text-anchor="start" fill="#000" font-family="Liberation Serif" >ADA</text>
<line x1="82.10" y1="234.60" x2="89.90" y2="234.60" stroke="#8a8a8a" stroke-width="1" />
<path d="M85.90,232.40 L87.90,236.00 L83.90,236.00 Z" fill="#8a8a8a"/>
<text x="95.30" y="238.30" font-size="10.0" text-anchor="start" fill="#000" font-family="Liberation Serif" >MK2206-10+ADA</text>
<text x="75.80" y="206.00" font-size="13.5" text-anchor="start" fill="#000" font-family="Liberation Serif" >H23</text>
<text x="0" y="0" font-size="12.6" text-anchor="middle" fill="#000" font-family="Liberation Serif" transform="translate(10.60,255.60) rotate(-90)">Survival Rate (%)</text>
<line x1="373.20" y1="217.30" x2="373.20" y2="300.00" stroke="#909090" stroke-width="1.1" />
<line x1="373.20" y1="300.00" x2="493.30" y2="300.00" stroke="#707070" stroke-width="1.3" />
<line x1="371.00" y1="300.00" x2="373.20" y2="300.00" stroke="#909090" stroke-width="1.1" />
<text x="370.60" y="303.80" font-size="11" text-anchor="end" fill="#000" font-family="Liberation Serif" >0</text>
<line x1="371.00" y1="272.30" x2="373.20" y2="272.30" stroke="#909090" stroke-width="1.1" />
<text x="370.60" y="276.10" font-size="11" text-anchor="end" fill="#000" font-family="Liberation Serif" >40</text>
<line x1="371.00" y1="244.60" x2="373.20" y2="244.60" stroke="#909090" stroke-width="1.1" />
<text x="370.60" y="248.40" font-size="11" text-anchor="end" fill="#000" font-family="Liberation Serif" >80</text>
<line x1="371.00" y1="216.90" x2="373.20" y2="216.90" stroke="#909090" stroke-width="1.1" />
<text x="370.60" y="220.70" font-size="11" text-anchor="end" fill="#000" font-family="Liberation Serif" >120</text>
<line x1="373.20" y1="300.00" x2="373.20" y2="302.40" stroke="#707070" stroke-width="1.1" />
<text x="373.20" y="314.20" font-size="11" text-anchor="middle" fill="#000" font-family="Liberation Serif" >0</text>
<line x1="413.20" y1="300.00" x2="413.20" y2="302.40" stroke="#707070" stroke-width="1.1" />
<text x="413.20" y="314.20" font-size="11" text-anchor="middle" fill="#000" font-family="Liberation Serif" >2</text>
<line x1="453.20" y1="300.00" x2="453.20" y2="302.40" stroke="#707070" stroke-width="1.1" />
<text x="453.20" y="314.20" font-size="11" text-anchor="middle" fill="#000" font-family="Liberation Serif" >4</text>
<line x1="493.20" y1="300.00" x2="493.20" y2="302.40" stroke="#707070" stroke-width="1.1" />
<text x="493.20" y="314.20" font-size="11" text-anchor="middle" fill="#000" font-family="Liberation Serif" >6</text>
<text x="502.50" y="314.20" font-size="11" text-anchor="start" fill="#000" font-family="Liberation Serif" >(µM)</text>
<polyline points="373.20,262.05 379.20,267.18 385.20,275.83 398.20,279.92 423.20,286.08 473.20,292.45" fill="none" stroke="#8a8a8a" stroke-width="0.85"/>
<line x1="373.20" y1="256.95" x2="373.20" y2="267.15" stroke="#8a8a8a" stroke-width="0.8" />
<line x1="371.20" y1="256.95" x2="375.20" y2="256.95" stroke="#8a8a8a" stroke-width="0.8" />
<line x1="371.20" y1="267.15" x2="375.20" y2="267.15" stroke="#8a8a8a" stroke-width="0.8" />
<path d="M373.20,259.85 L375.20,263.45 L371.20,263.45 Z" fill="#8a8a8a"/>
<line x1="379.20" y1="262.28" x2="379.20" y2="272.08" stroke="#8a8a8a" stroke-width="0.8" />
<line x1="377.20" y1="262.28" x2="381.20" y2="262.28" stroke="#8a8a8a" stroke-width="0.8" />
<line x1="377.20" y1="272.08" x2="381.20" y2="272.08" stroke="#8a8a8a" stroke-width="0.8" />
<path d="M379.20,264.98 L381.20,268.58 L377.20,268.58 Z" fill="#8a8a8a"/>
<line x1="385.20" y1="272.33" x2="385.20" y2="279.33" stroke="#8a8a8a" stroke-width="0.8" />
<line x1="383.20" y1="272.33" x2="387.20" y2="272.33" stroke="#8a8a8a" stroke-width="0.8" />
<line x1="383.20" y1="279.33" x2="387.20" y2="279.33" stroke="#8a8a8a" stroke-width="0.8" />
<path d="M385.20,273.63 L387.20,277.23 L383.20,277.23 Z" fill="#8a8a8a"/>
<line x1="398.20" y1="276.92" x2="398.20" y2="282.92" stroke="#8a8a8a" stroke-width="0.8" />
<line x1="396.20" y1="276.92" x2="400.20" y2="276.92" stroke="#8a8a8a" stroke-width="0.8" />
<line x1="396.20" y1="282.92" x2="400.20" y2="282.92" stroke="#8a8a8a" stroke-width="0.8" />
<path d="M398.20,277.72 L400.20,281.32 L396.20,281.32 Z" fill="#8a8a8a"/>
<line x1="423.20" y1="285.08" x2="423.20" y2="287.08" stroke="#8a8a8a" stroke-width="0.8" />
<line x1="421.20" y1="285.08" x2="425.20" y2="285.08" stroke="#8a8a8a" stroke-width="0.8" />
<line x1="421.20" y1="287.08" x2="425.20" y2="287.08" stroke="#8a8a8a" stroke-width="0.8" />
<path d="M423.20,283.88 L425.20,287.48 L421.20,287.48 Z" fill="#8a8a8a"/>
<line x1="473.20" y1="289.45" x2="473.20" y2="295.45" stroke="#8a8a8a" stroke-width="0.8" />
<line x1="471.20" y1="289.45" x2="475.20" y2="289.45" stroke="#8a8a8a" stroke-width="0.8" />
<line x1="471.20" y1="295.45" x2="475.20" y2="295.45" stroke="#8a8a8a" stroke-width="0.8" />
<path d="M473.20,290.25 L475.20,293.85 L471.20,293.85 Z" fill="#8a8a8a"/>
<polyline points="373.20,230.75 379.20,241.00 385.20,248.75 398.20,258.38 423.20,269.67 473.20,277.01" fill="none" stroke="#333" stroke-width="0.85"/>
<circle cx="373.20" cy="230.75" r="2.0" fill="#000"/>
<line x1="379.20" y1="236.40" x2="379.20" y2="245.60" stroke="#333" stroke-width="0.8" />
<line x1="377.20" y1="236.40" x2="381.20" y2="236.40" stroke="#333" stroke-width="0.8" />
<line x1="377.20" y1="245.60" x2="381.20" y2="245.60" stroke="#333" stroke-width="0.8" />
<circle cx="379.20" cy="241.00" r="2.0" fill="#000"/>
<line x1="385.20" y1="243.45" x2="385.20" y2="254.06" stroke="#333" stroke-width="0.8" />
<line x1="383.20" y1="243.45" x2="387.20" y2="243.45" stroke="#333" stroke-width="0.8" />
<line x1="383.20" y1="254.06" x2="387.20" y2="254.06" stroke="#333" stroke-width="0.8" />
<circle cx="385.20" cy="248.75" r="2.0" fill="#000"/>
<line x1="398.20" y1="253.58" x2="398.20" y2="263.18" stroke="#333" stroke-width="0.8" />
<line x1="396.20" y1="253.58" x2="400.20" y2="253.58" stroke="#333" stroke-width="0.8" />
<line x1="396.20" y1="263.18" x2="400.20" y2="263.18" stroke="#333" stroke-width="0.8" />
<circle cx="398.20" cy="258.38" r="2.0" fill="#000"/>
<line x1="423.20" y1="265.37" x2="423.20" y2="273.97" stroke="#333" stroke-width="0.8" />
<line x1="421.20" y1="265.37" x2="425.20" y2="265.37" stroke="#333" stroke-width="0.8" />
<line x1="421.20" y1="273.97" x2="425.20" y2="273.97" stroke="#333" stroke-width="0.8" />
<circle cx="423.20" cy="269.67" r="2.0" fill="#000"/>
<line x1="473.20" y1="272.91" x2="473.20" y2="281.11" stroke="#333" stroke-width="0.8" />
<line x1="471.20" y1="272.91" x2="475.20" y2="272.91" stroke="#333" stroke-width="0.8" />
<line x1="471.20" y1="281.11" x2="475.20" y2="281.11" stroke="#333" stroke-width="0.8" />
<circle cx="473.20" cy="277.01" r="2.0" fill="#000"/>
<line x1="419.40" y1="220.30" x2="427.20" y2="220.30" stroke="#222" stroke-width="1" />
<circle cx="423.20" cy="220.30" r="2.2" fill="#000"/>
<text x="432.60" y="224.00" font-size="10.0" text-anchor="start" fill="#000" font-family="Liberation Serif" >ADA</text>
<line x1="419.40" y1="234.20" x2="427.20" y2="234.20" stroke="#8a8a8a" stroke-width="1" />
<path d="M423.20,232.00 L425.20,235.60 L421.20,235.60 Z" fill="#8a8a8a"/>
<text x="432.60" y="237.90" font-size="10.0" text-anchor="start" fill="#000" font-family="Liberation Serif" >MK2206-10+ADA</text>
<text x="411.90" y="205.70" font-size="13.5" text-anchor="start" fill="#000" font-family="Liberation Serif" >H1299</text>
<text x="0" y="0" font-size="12.6" text-anchor="middle" fill="#000" font-family="Liberation Serif" transform="translate(351.00,256.20) rotate(-90)">Survival Rate (%)</text>
<line x1="209.30" y1="213.50" x2="327.19" y2="213.50" stroke="#333" stroke-width="1" stroke-dasharray="1,1"/>
<line x1="209.30" y1="255.50" x2="327.19" y2="255.50" stroke="#888" stroke-width="1" stroke-dasharray="1,1"/>
<line x1="209.30" y1="213.30" x2="209.30" y2="296.90" stroke="#909090" stroke-width="1.1" />
<line x1="209.30" y1="296.90" x2="329.60" y2="296.90" stroke="#909090" stroke-width="1.2" />
<line x1="207.10" y1="296.90" x2="209.30" y2="296.90" stroke="#909090" stroke-width="1.1" />
<text x="206.50" y="300.70" font-size="11" text-anchor="end" fill="#000" font-family="Liberation Serif" >0.0</text>
<line x1="207.10" y1="280.18" x2="209.30" y2="280.18" stroke="#909090" stroke-width="1.1" />
<text x="206.50" y="283.98" font-size="11" text-anchor="end" fill="#000" font-family="Liberation Serif" >0.2</text>
<line x1="207.10" y1="263.46" x2="209.30" y2="263.46" stroke="#909090" stroke-width="1.1" />
<text x="206.50" y="267.26" font-size="11" text-anchor="end" fill="#000" font-family="Liberation Serif" >0.4</text>
<line x1="207.10" y1="246.74" x2="209.30" y2="246.74" stroke="#909090" stroke-width="1.1" />
<text x="206.50" y="250.54" font-size="11" text-anchor="end" fill="#000" font-family="Liberation Serif" >0.6</text>
<line x1="207.10" y1="230.02" x2="209.30" y2="230.02" stroke="#909090" stroke-width="1.1" />
<text x="206.50" y="233.82" font-size="11" text-anchor="end" fill="#000" font-family="Liberation Serif" >0.8</text>
<line x1="207.10" y1="213.30" x2="209.30" y2="213.30" stroke="#909090" stroke-width="1.1" />
<text x="206.50" y="217.10" font-size="11" text-anchor="end" fill="#000" font-family="Liberation Serif" >1.0</text>
<line x1="209.30" y1="296.90" x2="209.30" y2="299.30" stroke="#909090" stroke-width="1.1" />
<text x="209.30" y="311.10" font-size="11" text-anchor="middle" fill="#000" font-family="Liberation Serif" >0.5</text>
<line x1="233.36" y1="296.90" x2="233.36" y2="299.30" stroke="#909090" stroke-width="1.1" />
<text x="233.36" y="311.10" font-size="11" text-anchor="middle" fill="#000" font-family="Liberation Serif" >0.6</text>
<line x1="257.42" y1="296.90" x2="257.42" y2="299.30" stroke="#909090" stroke-width="1.1" />
<text x="257.42" y="311.10" font-size="11" text-anchor="middle" fill="#000" font-family="Liberation Serif" >0.7</text>
<line x1="281.48" y1="296.90" x2="281.48" y2="299.30" stroke="#909090" stroke-width="1.1" />
<text x="281.48" y="311.10" font-size="11" text-anchor="middle" fill="#000" font-family="Liberation Serif" >0.8</text>
<line x1="305.54" y1="296.90" x2="305.54" y2="299.30" stroke="#909090" stroke-width="1.1" />
<text x="305.54" y="311.10" font-size="11" text-anchor="middle" fill="#000" font-family="Liberation Serif" >0.9</text>
<line x1="329.60" y1="296.90" x2="329.60" y2="299.30" stroke="#909090" stroke-width="1.1" />
<text x="329.60" y="311.10" font-size="11" text-anchor="middle" fill="#000" font-family="Liberation Serif" >1.0</text>
<circle cx="219.16" cy="231.44" r="1.9" fill="#000"/>
<circle cx="259.83" cy="253.43" r="1.9" fill="#000"/>
<circle cx="272.10" cy="242.31" r="1.9" fill="#000"/>
<circle cx="291.34" cy="235.29" r="1.9" fill="#000"/>
<circle cx="327.19" cy="287.54" r="1.9" fill="#000"/>
<text x="269.45" y="322.10" font-size="11" text-anchor="middle" fill="#000" font-family="Liberation Serif" >Fraction Affected</text>
<text x="269.60" y="197.00" font-size="13.5" text-anchor="middle" fill="#000" font-family="Liberation Serif" >H23</text>
<text x="0" y="0" font-size="11.4" text-anchor="middle" fill="#000" font-family="Liberation Serif" transform="translate(187.40,248.20) rotate(-90)">Combination Index</text>
<line x1="544.20" y1="213.50" x2="662.09" y2="213.50" stroke="#333" stroke-width="1" stroke-dasharray="1,1"/>
<line x1="544.20" y1="254.50" x2="662.09" y2="254.50" stroke="#888" stroke-width="1" stroke-dasharray="1,1"/>
<line x1="544.20" y1="213.00" x2="544.20" y2="296.60" stroke="#909090" stroke-width="1.1" />
<line x1="544.20" y1="296.60" x2="664.50" y2="296.60" stroke="#909090" stroke-width="1.2" />
<line x1="542.00" y1="296.60" x2="544.20" y2="296.60" stroke="#909090" stroke-width="1.1" />
<text x="541.40" y="300.40" font-size="11" text-anchor="end" fill="#000" font-family="Liberation Serif" >0.0</text>
<line x1="542.00" y1="279.88" x2="544.20" y2="279.88" stroke="#909090" stroke-width="1.1" />
<text x="541.40" y="283.68" font-size="11" text-anchor="end" fill="#000" font-family="Liberation Serif" >0.2</text>
<line x1="542.00" y1="263.16" x2="544.20" y2="263.16" stroke="#909090" stroke-width="1.1" />
<text x="541.40" y="266.96" font-size="11" text-anchor="end" fill="#000" font-family="Liberation Serif" >0.4</text>
<line x1="542.00" y1="246.44" x2="544.20" y2="246.44" stroke="#909090" stroke-width="1.1" />
<text x="541.40" y="250.24" font-size="11" text-anchor="end" fill="#000" font-family="Liberation Serif" >0.6</text>
<line x1="542.00" y1="229.72" x2="544.20" y2="229.72" stroke="#909090" stroke-width="1.1" />
<text x="541.40" y="233.52" font-size="11" text-anchor="end" fill="#000" font-family="Liberation Serif" >0.8</text>
<line x1="542.00" y1="213.00" x2="544.20" y2="213.00" stroke="#909090" stroke-width="1.1" />
<text x="541.40" y="216.80" font-size="11" text-anchor="end" fill="#000" font-family="Liberation Serif" >1.0</text>
<line x1="544.20" y1="296.60" x2="544.20" y2="299.00" stroke="#909090" stroke-width="1.1" />
<text x="544.20" y="310.80" font-size="11" text-anchor="middle" fill="#000" font-family="Liberation Serif" >0.5</text>
<line x1="568.26" y1="296.60" x2="568.26" y2="299.00" stroke="#909090" stroke-width="1.1" />
<text x="568.26" y="310.80" font-size="11" text-anchor="middle" fill="#000" font-family="Liberation Serif" >0.6</text>
<line x1="592.32" y1="296.60" x2="592.32" y2="299.00" stroke="#909090" stroke-width="1.1" />
<text x="592.32" y="310.80" font-size="11" text-anchor="middle" fill="#000" font-family="Liberation Serif" >0.7</text>
<line x1="616.38" y1="296.60" x2="616.38" y2="299.00" stroke="#909090" stroke-width="1.1" />
<text x="616.38" y="310.80" font-size="11" text-anchor="middle" fill="#000" font-family="Liberation Serif" >0.8</text>
<line x1="640.44" y1="296.60" x2="640.44" y2="299.00" stroke="#909090" stroke-width="1.1" />
<text x="640.44" y="310.80" font-size="11" text-anchor="middle" fill="#000" font-family="Liberation Serif" >0.9</text>
<line x1="664.50" y1="296.60" x2="664.50" y2="299.00" stroke="#909090" stroke-width="1.1" />
<text x="664.50" y="310.80" font-size="11" text-anchor="middle" fill="#000" font-family="Liberation Serif" >1.0</text>
<circle cx="551.90" cy="251.96" r="1.9" fill="#000"/>
<circle cx="578.12" cy="274.03" r="1.9" fill="#000"/>
<circle cx="592.32" cy="273.02" r="1.9" fill="#000"/>
<circle cx="616.38" cy="274.53" r="1.9" fill="#000"/>
<circle cx="635.63" cy="275.03" r="1.9" fill="#000"/>
<text x="604.35" y="321.80" font-size="11" text-anchor="middle" fill="#000" font-family="Liberation Serif" >Fraction Affected</text>
<text x="605.20" y="196.30" font-size="13.5" text-anchor="middle" fill="#000" font-family="Liberation Serif" >H1299</text>
<text x="0" y="0" font-size="11.4" text-anchor="middle" fill="#000" font-family="Liberation Serif" transform="translate(521.60,251.90) rotate(-90)">Combination Index</text>
<line x1="454.40" y1="382.50" x2="454.40" y2="476.70" stroke="#a0a0a0" stroke-width="1.3" />
<line x1="452.20" y1="476.70" x2="661.60" y2="476.70" stroke="#a0a0a0" stroke-width="1.3" />
<line x1="452.20" y1="476.70" x2="454.40" y2="476.70" stroke="#a0a0a0" stroke-width="1.2" />
<text x="451.00" y="481.10" font-size="13" text-anchor="end" fill="#000" font-family="Liberation Serif" >0</text>
<line x1="452.20" y1="457.86" x2="454.40" y2="457.86" stroke="#a0a0a0" stroke-width="1.2" />
<text x="451.00" y="462.26" font-size="13" text-anchor="end" fill="#000" font-family="Liberation Serif" >1</text>
<line x1="452.20" y1="439.02" x2="454.40" y2="439.02" stroke="#a0a0a0" stroke-width="1.2" />
<text x="451.00" y="443.42" font-size="13" text-anchor="end" fill="#000" font-family="Liberation Serif" >2</text>
<line x1="452.20" y1="420.18" x2="454.40" y2="420.18" stroke="#a0a0a0" stroke-width="1.2" />
<text x="451.00" y="424.58" font-size="13" text-anchor="end" fill="#000" font-family="Liberation Serif" >3</text>
<line x1="452.20" y1="401.34" x2="454.40" y2="401.34" stroke="#a0a0a0" stroke-width="1.2" />
<text x="451.00" y="405.74" font-size="13" text-anchor="end" fill="#000" font-family="Liberation Serif" >4</text>
<line x1="452.20" y1="382.50" x2="454.40" y2="382.50" stroke="#a0a0a0" stroke-width="1.2" />
<text x="451.00" y="386.90" font-size="13" text-anchor="end" fill="#000" font-family="Liberation Serif" >5</text>
<text x="0" y="0" font-size="13" text-anchor="middle" fill="#000" font-family="Liberation Serif" transform="translate(434.20,429.00) rotate(-90)">Relative intensity</text>
<text x="520.50" y="356.30" font-size="14.4" text-anchor="start" fill="#000" font-family="Liberation Serif" >p-AKT/AKT</text>
<rect x="620.30" y="358.40" width="9.20" height="8.00" fill="#000" />
<rect x="620.30" y="370.80" width="9.20" height="8.40" fill="#a4a4a4" />
<text x="635.80" y="366.10" font-size="12" text-anchor="start" fill="#000" font-family="Liberation Serif" >H23</text>
<text x="635.80" y="379.10" font-size="12" text-anchor="start" fill="#000" font-family="Liberation Serif" >H1299</text>
<rect x="465.35" y="457.86" width="14.50" height="18.84" fill="#000" />
<line x1="472.60" y1="476.70" x2="472.60" y2="479.30" stroke="#a0a0a0" stroke-width="1.1" />
<text x="0" y="0" font-size="13.0" text-anchor="end" fill="#000" font-family="Liberation Serif" transform="translate(477.00,491.00) rotate(-45)">DMSO</text>
<rect x="487.55" y="432.80" width="14.50" height="43.90" fill="#000" />
<line x1="494.80" y1="432.80" x2="494.80" y2="429.98" stroke="#111" stroke-width="1.0" />
<line x1="491.10" y1="430.38" x2="498.50" y2="430.38" stroke="#111" stroke-width="1.0" />
<line x1="494.80" y1="476.70" x2="494.80" y2="479.30" stroke="#a0a0a0" stroke-width="1.1" />
<text x="0" y="0" font-size="13.0" text-anchor="end" fill="#000" font-family="Liberation Serif" transform="translate(499.20,491.00) rotate(-45)">ADA-5</text>
<rect x="509.75" y="450.89" width="14.50" height="25.81" fill="#000" />
<line x1="517.00" y1="450.89" x2="517.00" y2="448.25" stroke="#111" stroke-width="1.0" />
<line x1="513.30" y1="448.65" x2="520.70" y2="448.65" stroke="#111" stroke-width="1.0" />
<line x1="517.00" y1="476.70" x2="517.00" y2="479.30" stroke="#a0a0a0" stroke-width="1.1" />
<text x="0" y="0" font-size="13.0" text-anchor="end" fill="#000" font-family="Liberation Serif" transform="translate(521.40,491.00) rotate(-45)">ADA-5</text>
<rect x="531.95" y="462.95" width="14.50" height="13.75" fill="#000" />
<line x1="539.20" y1="462.95" x2="539.20" y2="462.38" stroke="#111" stroke-width="1.0" />
<line x1="535.50" y1="462.78" x2="542.90" y2="462.78" stroke="#111" stroke-width="1.0" />
<line x1="539.20" y1="476.70" x2="539.20" y2="479.30" stroke="#a0a0a0" stroke-width="1.1" />
<text x="0" y="0" font-size="13.0" text-anchor="end" fill="#000" font-family="Liberation Serif" transform="translate(543.60,491.00) rotate(-45)">DMSO</text>
<rect x="568.95" y="457.86" width="14.50" height="18.84" fill="#a4a4a4" />
<line x1="576.20" y1="476.70" x2="576.20" y2="479.30" stroke="#a0a0a0" stroke-width="1.1" />
<text x="0" y="0" font-size="13.0" text-anchor="end" fill="#000" font-family="Liberation Serif" transform="translate(580.60,491.00) rotate(-45)">DMSO</text>
<rect x="591.15" y="402.09" width="14.50" height="74.61" fill="#a4a4a4" />
<line x1="598.40" y1="402.09" x2="598.40" y2="398.51" stroke="#555" stroke-width="1.0" />
<line x1="594.70" y1="398.91" x2="602.10" y2="398.91" stroke="#555" stroke-width="1.0" />
<line x1="598.40" y1="476.70" x2="598.40" y2="479.30" stroke="#a0a0a0" stroke-width="1.1" />
<text x="0" y="0" font-size="13.0" text-anchor="end" fill="#000" font-family="Liberation Serif" transform="translate(602.80,491.00) rotate(-45)">ADA-5</text>
<rect x="613.35" y="438.27" width="14.50" height="38.43" fill="#a4a4a4" />
<line x1="620.60" y1="438.27" x2="620.60" y2="434.31" stroke="#555" stroke-width="1.0" />
<line x1="616.90" y1="434.71" x2="624.30" y2="434.71" stroke="#555" stroke-width="1.0" />
<line x1="620.60" y1="476.70" x2="620.60" y2="479.30" stroke="#a0a0a0" stroke-width="1.1" />
<text x="0" y="0" font-size="13.0" text-anchor="end" fill="#000" font-family="Liberation Serif" transform="translate(625.00,491.00) rotate(-45)">ADA-5</text>
<rect x="635.55" y="457.86" width="14.50" height="18.84" fill="#a4a4a4" />
<line x1="642.80" y1="457.86" x2="642.80" y2="453.90" stroke="#555" stroke-width="1.0" />
<line x1="639.10" y1="454.30" x2="646.50" y2="454.30" stroke="#555" stroke-width="1.0" />
<line x1="642.80" y1="476.70" x2="642.80" y2="479.30" stroke="#a0a0a0" stroke-width="1.1" />
<text x="0" y="0" font-size="13.0" text-anchor="end" fill="#000" font-family="Liberation Serif" transform="translate(647.20,491.00) rotate(-45)">DMSO</text>
<line x1="494.80" y1="420.50" x2="517.00" y2="420.50" stroke="#777" stroke-width="1" />
<line x1="494.80" y1="419.10" x2="494.80" y2="421.90" stroke="#777" stroke-width="1" />
<line x1="517.00" y1="419.10" x2="517.00" y2="421.90" stroke="#777" stroke-width="1" />
<text x="505.90" y="418.60" font-size="9" text-anchor="middle" fill="#333" font-family="Liberation Serif" >**</text>
<line x1="598.40" y1="390.60" x2="620.60" y2="390.60" stroke="#777" stroke-width="1" />
<line x1="598.40" y1="389.20" x2="598.40" y2="392.00" stroke="#777" stroke-width="1" />
<line x1="620.60" y1="389.20" x2="620.60" y2="392.00" stroke="#777" stroke-width="1" />
<text x="609.50" y="389.50" font-size="9" text-anchor="middle" fill="#333" font-family="Liberation Serif" >**</text>
<text x="656.60" y="493.20" font-size="13.5" text-anchor="start" fill="#000" font-family="Liberation Serif" >(µM)</text>
<line x1="512.60" y1="518.60" x2="541.20" y2="518.60" stroke="#888" stroke-width="1.1" />
<line x1="617.60" y1="518.60" x2="645.80" y2="518.60" stroke="#888" stroke-width="1.1" />
<text x="488.00" y="537.00" font-size="14.2" text-anchor="start" fill="#000" font-family="Liberation Serif" >NAC (5 mM)</text>
<text x="593.00" y="537.00" font-size="14.2" text-anchor="start" fill="#000" font-family="Liberation Serif" >NAC (5 mM)</text>
</g>
</svg>
</body></html>
